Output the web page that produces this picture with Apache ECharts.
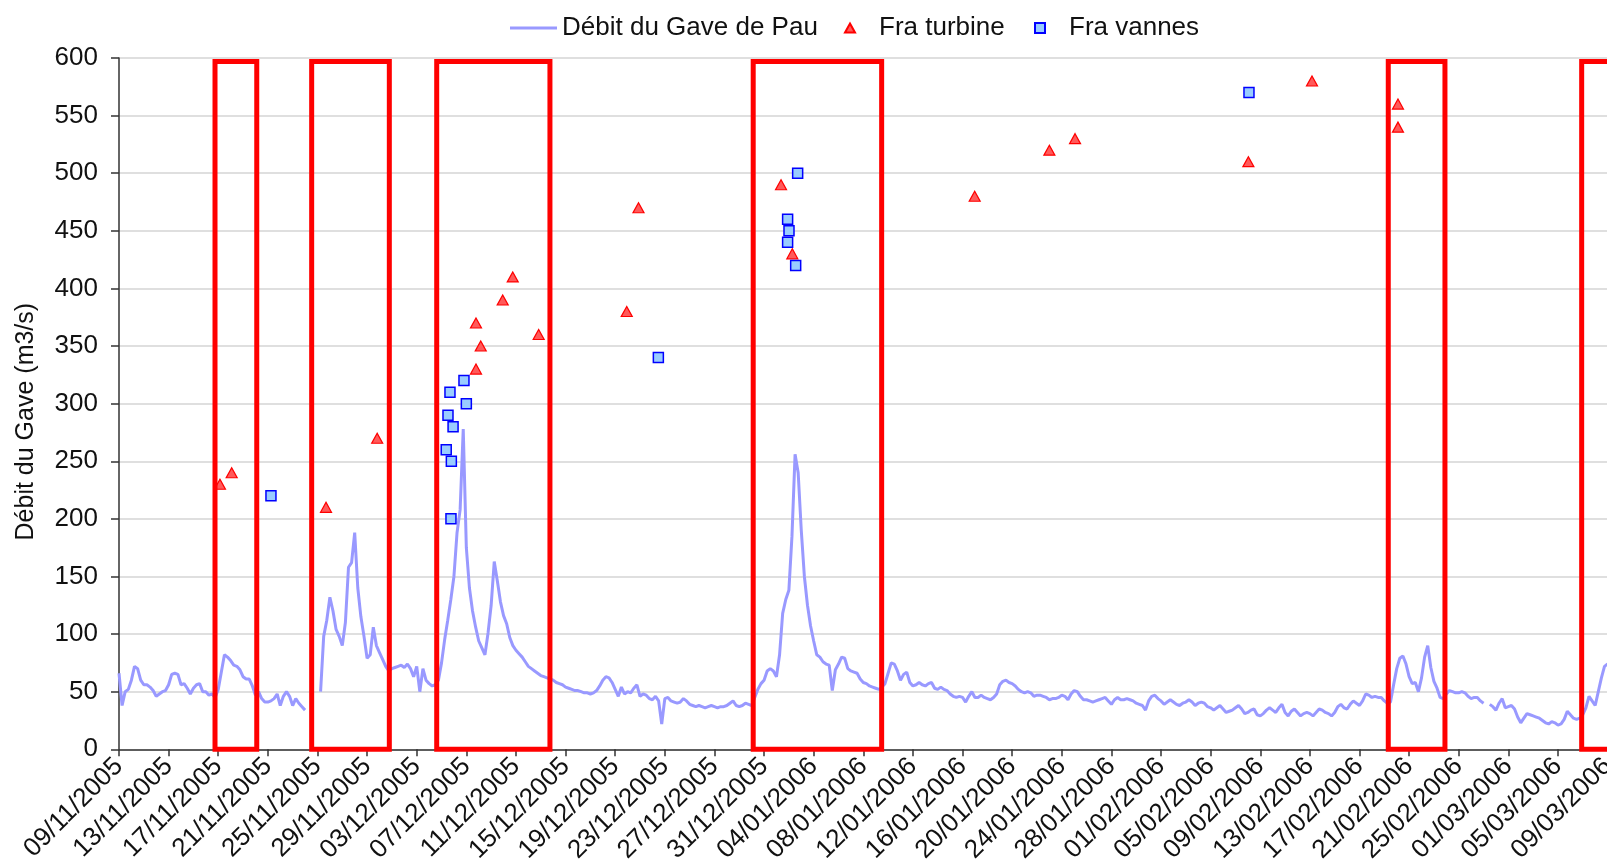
<!DOCTYPE html>
<html>
<head>
<meta charset="utf-8">
<script src="https://cdn.jsdelivr.net/npm/echarts@6/dist/echarts.min.js"></script>
<style>html,body{margin:0;padding:0;background:#fff}#c{width:1607px;height:859px}</style>
</head>
<body>
<div id="c"></div>
<script>
// ---------------- DATA ----------------
const START = '2005-11-09T00:00';
const STEP_HOURS = 6;
// Débit du Gave de Pau, one value every 6 hours from 09/11/2005 00:00
const flowValues = [
 66,38,50,52, 60,72,70,60, 56,56,54,51, 46,48,50,51, 56,65,66,65,
 56,57,53,48, 53,56,57,50, 50,47,48,45, 52,67,82,80, 77,73,72,69,
 63,61,61,55, 47,50,44,41, 41,42,44,48, 38,46,50,46, 38,44,40,37,
 34,null,null,null, null,50,98,112, 132,120,104,98, 90,110,158,162, 188,140,115,98,
 79,82,106,90, 84,78,72,68, 70,71,72,73, 71,74,70,63, 72,50,70,60,
 57,55,56,60, 75,95,112,130, 150,188,208,278, 175,140,120,106, 94,88,82,101,
 125,163,146,128, 116,109,97,90, 86,83,80,76, 72,70,68,66, 64,63,62,61,
 60,58,57,56, 54,53,52,51, 51,50,49,49, 48,49,51,55, 60,63,62,58,
 52,46,54,48, 50,49,53,56, 46,48,47,44, 43,46,42,22, 44,45,42,41,
 40,41,44,42, 39,38,37,38, 37,36,37,38, 37,36,37,37, 38,40,42,38,
 37,38,40,39, 38,45,52,57, 60,68,70,68, 63,82,118,130, 138,185,256,240,
 190,150,125,107, 94,82,80,76, 74,73,51,69, 74,80,79,70, 68,67,66,61,
 58,57,55,54, 53,52,54,57, 66,75,74,68, 60,65,67,58, 55,56,58,56,
 55,57,58,53, 52,54,52,51, 48,46,45,46, 45,41,46,50, 45,45,47,45,
 44,43,45,48, 56,59,60,58, 57,55,52,50, 49,50,49,46, 47,47,46,45,
 43,44,44,45, 47,46,43,48, 51,50,46,43, 43,42,41,42, 43,44,45,42,
 39,43,45,43, 43,44,43,42, 40,39,38,34, 42,46,47,44, 42,39,41,43,
 41,39,38,40, 41,43,41,38, 40,41,40,37, 36,34,36,38, 35,32,33,34,
 36,38,35,31, 32,34,35,30, 29,31,34,36, 34,32,36,39, 32,29,33,35,
 32,29,31,32, 31,29,32,35, 34,32,31,29, 32,37,39,36, 35,39,42,40,
 38,42,48,47, 45,46,45,45, 42,40,41,56, 70,79,81,74, 63,57,58,50,
 62,80,90,71, 59,53,45,44, 48,51,50,49, 49,50,49,46, 44,45,45,42,
 40,null,39,37, 34,40,44,36, 37,38,35,28, 23,27,31,30, 29,28,27,25,
 23,22,24,23, 21,22,26,33, 30,27,26,27, 30,36,46,42, 38,50,62,72,
 74
];
const turbineDates = [
 '2005-11-17T03:20','2005-11-18T02:00','2005-11-25T16:30','2005-11-29T19:30',
 '2005-12-07T18:40','2005-12-07T18:40','2005-12-08T03:50','2005-12-09T22:20',
 '2005-12-10T17:45','2005-12-12T19:55','2005-12-19T22:20','2005-12-20T21:05',
 '2006-01-01T08:50','2006-01-02T06:40','2006-01-16T23:30','2006-01-23T00:00',
 '2006-01-25T01:40','2006-02-08T01:00','2006-02-13T04:05','2006-02-20T02:25',
 '2006-02-20T02:25'
];
const turbineValues = [230,240,210,270,370,330,350,390,410,360,380,470,490,430,480,520,530,510,580,560,540];
const vannesDates = [
 '2005-11-21T06:00','2005-12-05T09:05','2005-12-05T12:30','2005-12-05T16:20',
 '2005-12-05T18:15','2005-12-05T19:00','2005-12-05T22:20','2005-12-06T19:25',
 '2005-12-07T00:00','2005-12-22T11:30','2006-01-01T21:35','2006-01-01T21:35',
 '2006-01-02T00:15','2006-01-02T13:10','2006-01-02T17:00','2006-02-08T02:10'
];
const vannesValues = [220,260,290,310,200,250,280,320,300,340,460,440,450,420,500,570];
// highlighted periods (red frames)
const boxStarts = ['2005-11-16T17:45','2005-11-24T12:45','2005-12-04T14:40','2005-12-30T03:00','2006-02-19T07:40','2006-03-06T21:50'];
const boxEnds   = ['2005-11-20T02:30','2005-11-30T19:00','2005-12-13T17:45','2006-01-09T11:30','2006-02-23T21:20','2006-03-11T00:00'];
const boxTop = 597;
const xTickLabels = ['09/11/2005','13/11/2005','17/11/2005','21/11/2005','25/11/2005','29/11/2005','03/12/2005',
 '07/12/2005','11/12/2005','15/12/2005','19/12/2005','23/12/2005','27/12/2005','31/12/2005','04/01/2006',
 '08/01/2006','12/01/2006','16/01/2006','20/01/2006','24/01/2006','28/01/2006','01/02/2006','05/02/2006',
 '09/02/2006','13/02/2006','17/02/2006','21/02/2006','25/02/2006','01/03/2006','05/03/2006','09/03/2006'];
const seriesNames = ['Débit du Gave de Pau','Fra turbine','Fra vannes'];
const yAxisName = 'Débit du Gave (m3/s)';

// ---------------- CHART ----------------
const FONT = "'Liberation Sans', Arial, sans-serif";
const t0 = Date.parse(START + ':00Z');
const dayOf = s => (Date.parse(s + ':00Z') - t0) / 86400000;

const flowData = flowValues.map((v, i) => [i * STEP_HOURS / 24, v]);
const turbineData = turbineDates.map((d, i) => [dayOf(d), turbineValues[i]]);
const vannesData = vannesDates.map((d, i) => [dayOf(d), vannesValues[i]]);
const boxData = boxStarts.map((s, i) => [dayOf(s), dayOf(boxEnds[i]), boxTop]);

const legendText = {fontSize: 26, fontFamily: FONT, color: '#111'};
const chart = echarts.init(document.getElementById('c'), null, {renderer: 'canvas'});
chart.setOption({
  animation: false,
  backgroundColor: '#ffffff',
  textStyle: {fontFamily: FONT},
  grid: {left: 119, top: 58, width: 1488.6, height: 691.3, containLabel: false, outerBoundsMode: 'none'},
  legend: [
    {left: 505, top: 10, itemWidth: 47, itemHeight: 3, textStyle: legendText,
     data: [{name: seriesNames[0], icon: 'rect', itemStyle: {color: '#9999ff'}}]},
    {left: 839, top: 10, itemWidth: 10, itemHeight: 9, textStyle: Object.assign({padding: [0, 0, 0, 19]}, legendText),
     data: [{name: seriesNames[1], icon: 'triangle'}]},
    {left: 1029, top: 10, itemWidth: 10, itemHeight: 10, textStyle: Object.assign({padding: [0, 0, 0, 19]}, legendText),
     data: [{name: seriesNames[2], icon: 'rect'}]}
  ],
  xAxis: {
    type: 'value', min: 0, max: 120, interval: 4,
    axisLine: {lineStyle: {color: '#333', width: 1.5}},
    axisTick: {show: true, inside: false, length: 7, lineStyle: {color: '#333', width: 1.5}},
    splitLine: {show: false},
    axisLabel: {
      rotate: 45, margin: 13, fontSize: 26, color: '#111', fontFamily: FONT,
      showMinLabel: true, showMaxLabel: true,
      formatter: v => xTickLabels[Math.round(v / 4)] || ''
    }
  },
  yAxis: {
    type: 'value', min: 0, max: 600, interval: 50,
    name: yAxisName, nameLocation: 'middle', nameRotate: 90, nameGap: 80,
    nameTextStyle: {fontSize: 25, color: '#111', fontFamily: FONT, padding: [0, 36, 0, 0]},
    axisLine: {show: true, lineStyle: {color: '#333', width: 1.5}},
    axisTick: {show: true, inside: false, length: 8, lineStyle: {color: '#333', width: 1.5}},
    splitLine: {show: true, lineStyle: {color: '#d4d4d4', width: 1.5}},
    axisLabel: {margin: 21, fontSize: 26, color: '#111', fontFamily: FONT}
  },
  series: [
    {
      name: seriesNames[0], type: 'line', data: flowData, symbol: 'none',
      connectNulls: false, z: 2,
      lineStyle: {color: '#9999ff', width: 3},
      itemStyle: {color: '#9999ff'}
    },
    {
      name: seriesNames[1], type: 'scatter', data: turbineData, symbol: 'triangle',
      symbolSize: [11, 10], z: 3,
      itemStyle: {color: '#ff5a5a', borderColor: '#ff0000', borderWidth: 1.2, opacity: 1}
    },
    {
      name: seriesNames[2], type: 'scatter', data: vannesData, symbol: 'rect',
      symbolSize: 10, z: 4,
      itemStyle: {color: '#99ccff', borderColor: '#0000ff', borderWidth: 1.5, opacity: 1}
    },
    {
      type: 'custom', data: boxData, silent: true, z: 10,
      encode: {x: [0, 1], y: [2]},
      renderItem: (params, api) => {
        const p0 = api.coord([api.value(0), api.value(2)]);
        const p1 = api.coord([api.value(1), 0]);
        return {
          type: 'rect',
          shape: {x: p0[0], y: p0[1], width: p1[0] - p0[0], height: p1[1] - p0[1]},
          style: {fill: 'none', stroke: '#ff0000', lineWidth: 5}
        };
      }
    }
  ]
});
</script>
</body>
</html>
